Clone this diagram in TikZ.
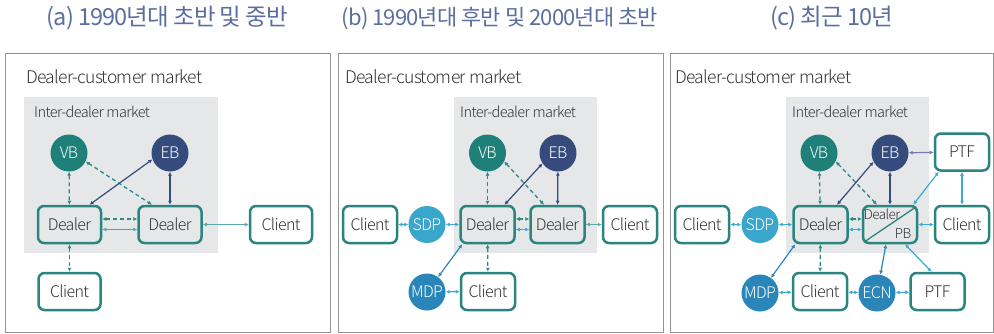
\documentclass[tikz,border=0pt]{standalone}
\usepackage{fontspec}
\IfFontExistsTF{Noto Sans CJK KR Light}
  {\setmainfont[LetterSpace=-4]{Noto Sans CJK KR Light}}
  {\setmainfont[LetterSpace=-4]{Noto Sans CJK KR}}
\newfontfamily\ttlfont[LetterSpace=-4]{Noto Sans CJK KR}
\usetikzlibrary{arrows.meta}

\definecolor{vbcol}{HTML}{1F7F79}
\definecolor{ebcol}{HTML}{344B7C}
\definecolor{boxcol}{HTML}{2A8480}
\definecolor{dshcol}{HTML}{2A8A84}
\definecolor{ltblue}{HTML}{3EA9D1}
\definecolor{sdpcol}{HTML}{3AA6CB}
\definecolor{mdpcol}{HTML}{2A86B8}
\definecolor{ltteal}{HTML}{5AAAA6}
\definecolor{purp}{HTML}{7B76A8}
\definecolor{idgray}{HTML}{E6E7E9}
\definecolor{ttlcol}{HTML}{5A6E9F}
\definecolor{txtcol}{HTML}{333333}

\begin{document}
\begin{tikzpicture}[x=1pt, y=-1pt, >={Latex[length=4pt,width=4pt]},
    panel/.style={draw=gray!85, line width=0.9pt},
    idm/.style={fill=idgray},
    ttl/.style={text=ttlcol, font=\ttlfont\fontsize{23.5}{26}\selectfont},
    mkt/.style={anchor=west, inner sep=0pt, text=txtcol, font=\fontsize{17.5}{20}\selectfont},
    imkt/.style={anchor=west, inner sep=0pt, text=txtcol, font=\fontsize{14.5}{17}\selectfont},
    box/.style={draw=boxcol, line width=2.5pt, rounded corners=6pt, fill=white,
        minimum width=54pt, minimum height=37pt, inner sep=0pt, text=txtcol,
        font=\fontsize{16}{18}\selectfont},
    dbox/.style={box, fill=idgray},
    dot/.style={circle, minimum size=37pt, inner sep=0pt, text=white,
        font=\fontsize{16}{18}\selectfont},
    dsh/.style={<->, draw=dshcol, line width=1.3pt, dash pattern=on 4pt off 3pt},
    nv/.style={<->, draw=ebcol, line width=1.2pt},
    lb/.style={<->, draw=ltblue, line width=1.2pt},
    bl/.style={<->, draw=mdpcol, line width=1.2pt},
    lt/.style={<->, draw=ltteal, line width=1.2pt},
    pu/.style={<->, draw=purp, line width=1.2pt}]

    \useasboundingbox (0,0) rectangle (994,333);

    % Titles
    \node[ttl] (ta) at (167.5,18) {(a) 1990년대 초반 및 중반};
    \node[ttl, font=\ttlfont\fontsize{22}{26}\selectfont] (tb) at (500,18) {(b) 1990년대 후반 및 2000년대 초반};
    \node[ttl] (tc) at (832,18) {(c) 최근 10년};

    % Frames and inter-dealer areas
    \draw[panel] (5,53) rectangle (330,332.5);
    \draw[panel] (338,53) rectangle (663,332.5);
    \draw[panel] (670,53) rectangle (993,332.5);
    \fill[idm] (24,97) rectangle (218,253);
    \fill[idm] (454,97) rectangle (597,253);
    \fill[idm] (786,97) rectangle (929,253);

    \node[mkt] (dcA) at (26,77) {Dealer-customer market};
    \node[mkt] (dcB) at (345,77) {Dealer-customer market};
    \node[mkt] (dcC) at (675,77) {Dealer-customer market};
    \node[imkt] (idA) at (34,112) {Inter-dealer market};
    \node[imkt] (idB) at (460,112) {Inter-dealer market};
    \node[imkt] (idC) at (792,112) {Inter-dealer market};

    % (a) nodes
    \node[dot, fill=vbcol] (vbA) at (69,153) {VB};
    \node[dot, fill=ebcol] (ebA) at (170,153) {EB};
    \node[dbox, minimum width=63pt] (dA1) at (69.5,224.5) {Dealer};
    \node[dbox, minimum width=63pt] (dA2) at (170,224.5) {Dealer};
    \node[box, minimum width=62pt] (clA1) at (281,224.5) {Client};
    \node[box, minimum width=62pt] (clA2) at (69.5,291.5) {Client};

    % (a) links
    \draw (vbA) edge[dsh] (dA1);
    \draw (vbA.-27) edge[dsh] ([xshift=-18pt]dA2.north);
    \draw (ebA.200) edge[nv] ([xshift=20pt]dA1.north);
    \draw (ebA) edge[nv] (dA2);
    \draw ([yshift=5.5pt]dA1.east) edge[dsh] ([yshift=5.5pt]dA2.west);
    \draw ([yshift=-5pt]dA1.east) edge[lb] ([yshift=-5pt]dA2.west);
    \draw (dA2) edge[lt] (clA1);
    \draw (dA1) edge[dsh] (clA2);

    % (b) nodes
    \node[dot, fill=vbcol] (vbB) at (487.5,153) {VB};
    \node[dot, fill=ebcol] (ebB) at (558,153) {EB};
    \node[dbox] (dB1) at (487.5,224.5) {Dealer};
    \node[dbox] (dB2) at (557.5,224.5) {Dealer};
    \node[box] (clB1) at (370,224.5) {Client};
    \node[dot, fill=sdpcol] (sdpB) at (427,224.5) {SDP};
    \node[box] (clB2) at (630,224.5) {Client};
    \node[dot, fill=mdpcol] (mdpB) at (427,292) {MDP};
    \node[box] (clB3) at (488,291.5) {Client};

    % (b) links
    \draw (clB1) edge[lb] (sdpB);
    \draw (sdpB) edge[lb] (dB1);
    \draw (vbB) edge[dsh] (dB1);
    \draw (vbB.-27) edge[dsh] ([xshift=-13.5pt]dB2.north);
    \draw (ebB.214) edge[nv] ([xshift=17pt]dB1.north);
    \draw (ebB) edge[nv] (dB2);
    \draw ([yshift=5.5pt]dB1.east) edge[dsh] ([yshift=5.5pt]dB2.west);
    \draw ([yshift=-5pt]dB1.east) edge[lb] ([yshift=-5pt]dB2.west);
    \draw (dB2) edge[lt] (clB2);
    \draw (mdpB) edge[bl] ([xshift=3pt]dB1.south west);
    \draw (mdpB) edge[lb] (clB3);
    \draw (dB1) edge[dsh] (clB3);

    % (c) nodes
    \node[dot, fill=vbcol] (vbC) at (819,153) {VB};
    \node[dot, fill=ebcol] (ebC) at (890,153) {EB};
    \node[box] (ptfC1) at (962,152) {PTF};
    \node[dbox] (dC) at (820.5,224.5) {Dealer};
    \node[dbox] (pbC) at (890,224.5) {};
    \node[box] (clC1) at (702,224.5) {Client};
    \node[dot, fill=sdpcol] (sdpC) at (760,224.5) {SDP};
    \node[box] (clC2) at (962,224.5) {Client};
    \node[dot, fill=mdpcol] (mdpC) at (760,293) {MDP};
    \node[box] (clC3) at (820,291.5) {Client};
    \node[dot, fill=mdpcol] (ecnC) at (877,293) {ECN};
    \node[box] (ptfC2) at (937.5,291.5) {PTF};

    % dealer / prime broker split box
    \draw[boxcol, line width=1.3pt] ([shift={(2,-2)}]pbC.south west) -- ([shift={(-2,2)}]pbC.north east);
    \node[text=txtcol, font=\fontsize{13.5}{15}\selectfont] (pbCd) at (882,214) {Dealer};
    \node[text=txtcol, font=\fontsize{13.5}{15}\selectfont] (pbCp) at (903,234) {PB};

    % (c) links
    \draw (clC1) edge[lb] (sdpC);
    \draw (sdpC) edge[lb] (dC);
    \draw (vbC) edge[dsh] (dC);
    \draw (vbC.-27) edge[dsh] ([xshift=-13pt]pbC.north);
    \draw (ebC.208) edge[nv] ([xshift=16.5pt]dC.north);
    \draw (ebC) edge[nv] (pbC);
    \draw (ebC) edge[pu] (ptfC1);
    \draw ([xshift=5pt]ptfC1.south west) edge[lb] ([xshift=-5pt]pbC.north east);
    \draw (ptfC1) edge[lb] (clC2);
    \draw ([yshift=5.5pt]dC.east) edge[dsh] ([yshift=5.5pt]pbC.west);
    \draw ([yshift=-5pt]dC.east) edge[lb] ([yshift=-5pt]pbC.west);
    \draw (pbC) edge[lb] (clC2);
    \draw (mdpC) edge[bl] ([xshift=3pt]dC.south west);
    \draw (mdpC) edge[lb] (clC3);
    \draw (dC) edge[dsh] (clC3);
    \draw (clC3) edge[lb] (ecnC);
    \draw (ecnC) edge[bl] ([xshift=-4pt]pbC.south);
    \draw (ecnC) edge[lb] (ptfC2);
    \draw ([xshift=15pt]pbC.south) edge[lb] ([xshift=-6pt]ptfC2.north);

\end{tikzpicture}
\end{document}
